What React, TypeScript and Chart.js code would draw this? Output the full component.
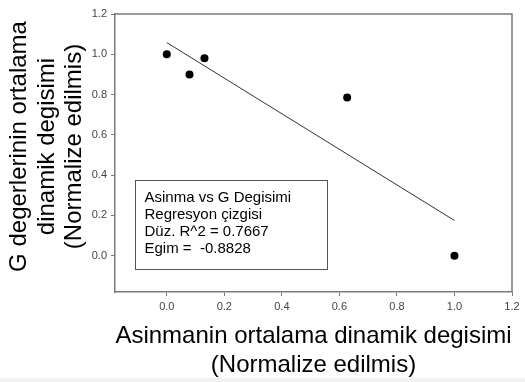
import React, { useEffect, useRef } from "react";
import { Chart, registerables } from "chart.js";

Chart.register(...registerables);

// ---- data ----
const pointX = [0.0, 0.079, 0.131, 0.627, 1.0];
const pointY = [1.0, 0.9, 0.98, 0.785, 0.0];
const regX = [0.0, 1.0];
const regY = [1.058, 0.175];
const xTicks = [0.0, 0.2, 0.4, 0.6, 0.8, 1.0, 1.2];
const yTicks = [0.0, 0.2, 0.4, 0.6, 0.8, 1.0, 1.2];
const legendLines = [
  "Asinma vs G Degisimi",
  "Regresyon çizgisi",
  "Düz. R^2 = 0.7667",
  "Egim =  -0.8828",
];
const xTitle = ["Asinmanin ortalama dinamik degisimi", "(Normalize edilmis)"];
const yTitle = ["G degerlerinin ortalama", "dinamik degisimi", "(Normalize edilmis)"];

const FONT = "'Liberation Sans', Arial, Helvetica, sans-serif";
const AXIS_COLOR = "#7a7a7a";

const bgPlugin = {
  id: "bgStrip",
  beforeDraw(chart: any) {
    const { ctx, width, height } = chart;
    ctx.save();
    ctx.fillStyle = "#f1f1f1";
    ctx.fillRect(0, height - 4, width, 4);
    ctx.restore();
  },
};

const framePlugin = {
  id: "frame",
  afterDraw(chart: any) {
    const { ctx, chartArea } = chart;
    ctx.save();
    ctx.strokeStyle = AXIS_COLOR;
    ctx.lineWidth = 1.5;
    ctx.beginPath();
    ctx.moveTo(chartArea.left, chartArea.top);
    ctx.lineTo(chartArea.right, chartArea.top);
    ctx.lineTo(chartArea.right, chartArea.bottom);
    ctx.stroke();
    ctx.restore();
  },
};

const yTitlePlugin = {
  id: "yTitle",
  afterDraw(chart: any) {
    const { ctx, chartArea } = chart;
    const cy = (chartArea.top + chartArea.bottom) / 2 - 6.5;
    ctx.save();
    ctx.fillStyle = "#000";
    ctx.font = `24px ${FONT}`;
    ctx.textAlign = "center";
    ctx.textBaseline = "middle";
    yTitle.forEach((t, i) => {
      ctx.save();
      ctx.translate(19.5 + i * 27.6, cy);
      ctx.rotate(-Math.PI / 2);
      ctx.fillText(t, 0, 0);
      ctx.restore();
    });
    ctx.restore();
  },
};

const legendBoxPlugin = {
  id: "legendBox",
  afterDatasetsDraw(chart: any) {
    const { ctx } = chart;
    const xs = chart.scales.x;
    const ys = chart.scales.y;
    const left = Math.round(xs.getPixelForValue(-0.11)) + 0.5;
    const right = Math.round(xs.getPixelForValue(0.558)) + 0.5;
    const top = Math.round(ys.getPixelForValue(0.377)) + 0.5;
    const bottom = Math.round(ys.getPixelForValue(-0.064)) + 0.5;
    ctx.save();
    ctx.fillStyle = "#ffffff";
    ctx.fillRect(left, top, right - left, bottom - top);
    ctx.strokeStyle = "#555";
    ctx.lineWidth = 1;
    ctx.strokeRect(left, top, right - left, bottom - top);
    ctx.fillStyle = "#000";
    ctx.font = `15px ${FONT}`;
    ctx.textBaseline = "middle";
    ctx.textAlign = "left";
    legendLines.forEach((t, i) => {
      ctx.fillText(t, left + 9, top + 17 + i * 17);
    });
    ctx.restore();
  },
};

export default function App() {
  const ref = useRef<HTMLCanvasElement | null>(null);

  useEffect(() => {
    if (!ref.current) return;
    const chart = new Chart(ref.current, {
      type: "scatter",
      data: {
        datasets: [
          {
            type: "scatter",
            data: pointX.map((x, i) => ({ x, y: pointY[i] })),
            pointRadius: 4,
            pointBackgroundColor: "#000",
            pointBorderColor: "#000",
            pointBorderWidth: 0,
          } as any,
          {
            type: "line",
            data: regX.map((x, i) => ({ x, y: regY[i] })),
            borderColor: "#333",
            borderWidth: 1,
            pointRadius: 0,
            fill: false,
            showLine: true,
            tension: 0,
          } as any,
        ],
      },
      options: {
        responsive: false,
        animation: false,
        devicePixelRatio: 1,
        layout: { padding: { left: 0, top: 14, right: 13, bottom: 0 } },
        plugins: {
          legend: { display: false },
          tooltip: { enabled: false },
        },
        scales: {
          x: {
            type: "linear",
            min: -0.18,
            max: 1.2,
            afterBuildTicks: (s: any) => {
              s.ticks = xTicks.map((v) => ({ value: v }));
            },
            afterFit: (s: any) => {
              s.height = 90;
            },
            ticks: {
              callback: (v: any) => Number(v).toFixed(1),
              font: { family: FONT, size: 11 },
              color: "#444",
              padding: 4,
              maxRotation: 0,
              autoSkip: false,
            },
            grid: {
              display: true,
              drawOnChartArea: false,
              drawTicks: true,
              tickLength: 4,
              color: AXIS_COLOR,
              lineWidth: 1,
            },
            border: { display: true, color: AXIS_COLOR, width: 1.5 },
            title: {
              display: true,
              text: xTitle,
              color: "#000",
              font: { family: FONT, size: 24, lineHeight: 1.2 },
              padding: { top: 0, bottom: 2 },
            },
          },
          y: {
            type: "linear",
            min: -0.18,
            max: 1.2,
            afterBuildTicks: (s: any) => {
              s.ticks = yTicks.map((v) => ({ value: v }));
            },
            afterFit: (s: any) => {
              s.width = 115;
            },
            ticks: {
              callback: (v: any) => Number(v).toFixed(1),
              font: { family: FONT, size: 11 },
              color: "#444",
              padding: 4,
              autoSkip: false,
            },
            grid: {
              display: true,
              drawOnChartArea: false,
              drawTicks: true,
              tickLength: 4,
              color: AXIS_COLOR,
              lineWidth: 1,
            },
            border: { display: true, color: AXIS_COLOR, width: 1.5 },
            title: { display: false },
          },
        },
      },
      plugins: [bgPlugin, framePlugin, yTitlePlugin, legendBoxPlugin],
    } as any);
    return () => chart.destroy();
  }, []);

  return (
    <div style={{ position: "absolute", left: 0, top: 0, width: 525, height: 382, background: "#fff" }}>
      <canvas ref={ref} width={525} height={382} style={{ display: "block" }} />
    </div>
  );
}
